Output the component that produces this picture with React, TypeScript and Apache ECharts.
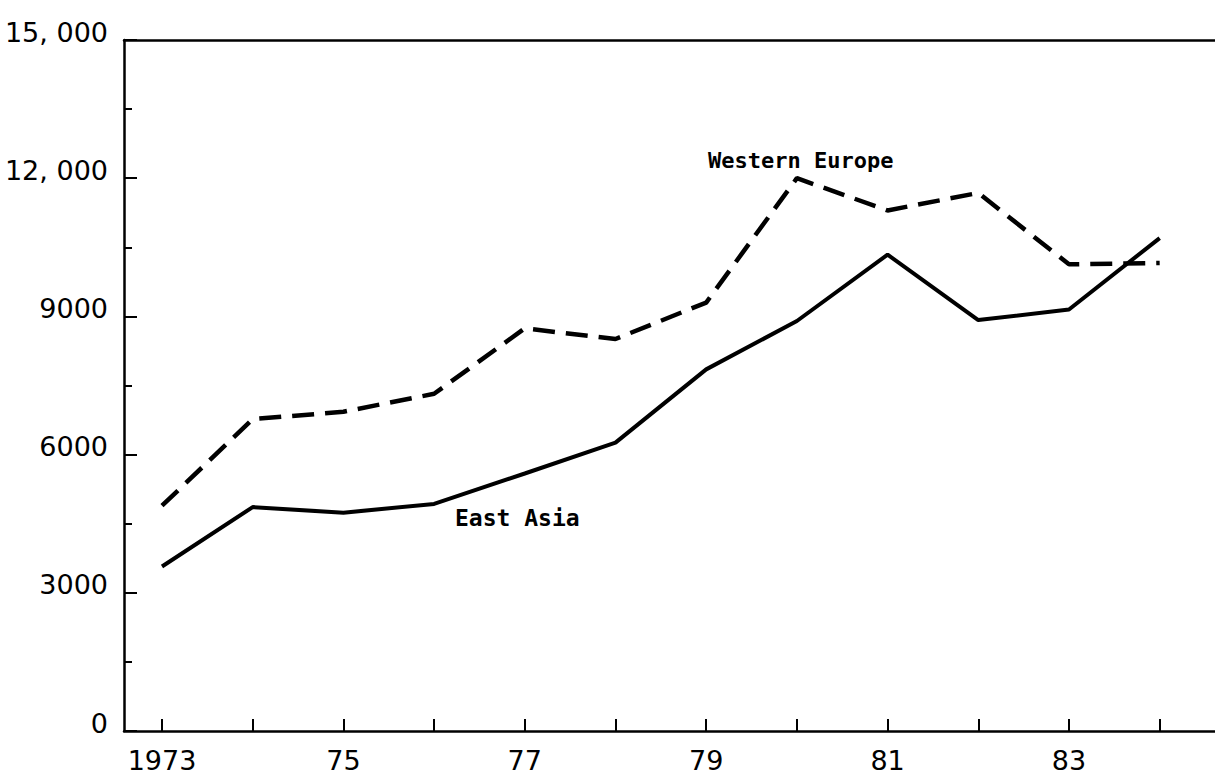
import React, { useEffect, useRef } from "react";
import * as echarts from "echarts";

const years = [1973, 1974, 1975, 1976, 1977, 1978, 1979, 1980, 1981, 1982, 1983, 1984];
const eastAsia = [3570, 4860, 4740, 4930, 5590, 6260, 7850, 8900, 10340, 8920, 9150, 10700];
const westernEurope = [4890, 6770, 6930, 7320, 8740, 8510, 9300, 12000, 11300, 11680, 10130, 10160];
const xLabelYears = [1973, 1975, 1977, 1979, 1981, 1983];
const yMin = 0;
const yMax = 15000;
const yInterval = 3000;
const seriesNames = ["East Asia", "Western Europe"];

function formatY(v: number): string {
  if (v >= 10000) {
    const s = String(v);
    return s.slice(0, s.length - 3) + ", " + s.slice(s.length - 3);
  }
  return String(v);
}

function formatX(v: number): string {
  if (v === xLabelYears[0]) return String(v);
  return String(v).slice(2);
}

export default function App() {
  const ref = useRef<HTMLDivElement>(null);
  useEffect(() => {
    document.body.style.margin = "0";
    document.body.style.background = "#fff";
    if (!ref.current) return;
    const chart = echarts.init(ref.current, null, { renderer: "svg" });
    const xMin = 1972.581;
    const xMax = 1984.61;
    chart.setOption({
      animation: false,
      backgroundColor: "#ffffff",
      grid: { left: 124, right: 0, top: 40, bottom: 50, containLabel: false },
      xAxis: [
        {
          type: "value",
          min: xMin,
          max: xMax,
          axisLine: { show: true, onZero: false, lineStyle: { color: "#000", width: 2.5 } },
          axisTick: {
            show: true,
            inside: true,
            length: 12,
            customValues: years,
            lineStyle: { color: "#000", width: 2 },
          },
          axisLabel: {
            show: true,
            customValues: xLabelYears,
            formatter: (v: number) => formatX(v),
            color: "#000",
            fontFamily: "DejaVu Sans",
            fontSize: 27,
            margin: 16,
          },
          splitLine: { show: false },
        },
        {
          type: "value",
          position: "top",
          min: xMin,
          max: xMax,
          axisLine: { show: true, onZero: false, lineStyle: { color: "#000", width: 2.5 } },
          axisTick: { show: false },
          axisLabel: { show: false },
          splitLine: { show: false },
        },
      ],
      yAxis: {
        type: "value",
        min: yMin,
        max: yMax,
        interval: yInterval,
        axisLine: { show: true, lineStyle: { color: "#000", width: 2.5 } },
        axisTick: { show: true, inside: true, length: 13, lineStyle: { color: "#000", width: 2 } },
        minorTick: { show: true, splitNumber: 2, length: 8, lineStyle: { color: "#000", width: 2 } },
        axisLabel: {
          formatter: (v: number) => formatY(v),
          color: "#000",
          fontFamily: "DejaVu Sans",
          fontSize: 27,
          margin: 16,
          verticalAlign: "bottom",
          lineHeight: 16,
        },
        splitLine: { show: false },
      },
      graphic: [
        {
          type: "text",
          left: 708,
          top: 149,
          style: {
            text: "Western Europe",
            fill: "#000",
            font: "bold 22px 'DejaVu Sans Mono'",
          },
        },
        {
          type: "text",
          left: 455,
          top: 506,
          style: {
            text: "East Asia",
            fill: "#000",
            font: "bold 23px 'DejaVu Sans Mono'",
          },
        },
      ],
      series: [
        {
          name: seriesNames[0],
          type: "line",
          data: years.map((y, i) => [y, eastAsia[i]]),
          showSymbol: false,
          symbol: "none",
          lineStyle: { color: "#000", width: 4 },
        },
        {
          name: seriesNames[1],
          type: "line",
          data: years.map((y, i) => [y, westernEurope[i]]),
          showSymbol: false,
          symbol: "none",
          lineStyle: { color: "#000", width: 4.5, type: [22, 11] },
        },
      ],
    });
    return () => chart.dispose();
  }, []);
  return <div ref={ref} style={{ width: 1215, height: 781 }} />;
}
